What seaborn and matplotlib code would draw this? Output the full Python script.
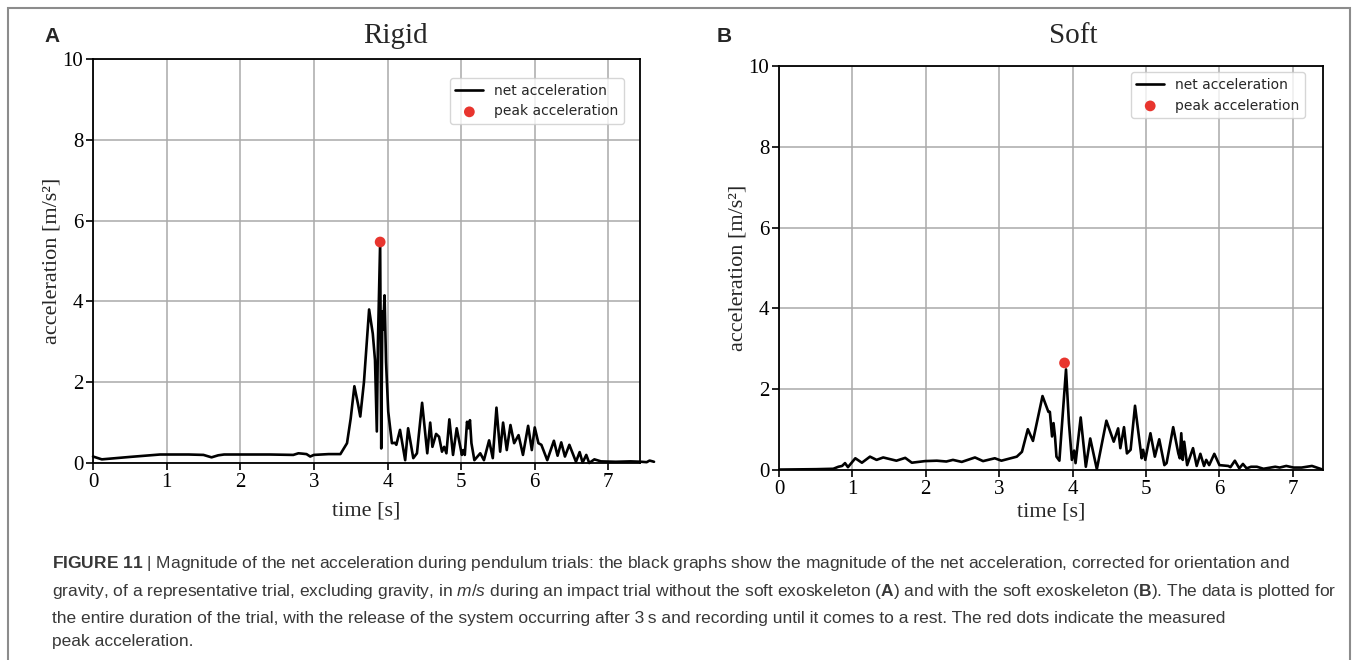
import matplotlib
matplotlib.use("Agg")
import matplotlib.pyplot as plt
import seaborn as sns
import pandas as pd
from matplotlib.patches import Rectangle

# --- data ---------------------------------------------------------------
rigid_t = [0.0, 0.12, 0.5, 0.91, 1.3, 1.5, 1.61, 1.7, 1.78, 2.0,
           2.4, 2.72, 2.79, 2.85, 2.9, 2.95, 3.0, 3.2, 3.36, 3.45,
           3.5, 3.55, 3.6, 3.63, 3.68, 3.75, 3.8, 3.83, 3.855, 3.87,
           3.90, 3.915, 3.93, 3.94, 3.96, 3.98, 4.01, 4.06, 4.1, 4.12,
           4.17, 4.24, 4.28, 4.35, 4.40, 4.47, 4.54, 4.58, 4.61, 4.66,
           4.70, 4.74, 4.77, 4.80, 4.84, 4.89, 4.94, 5.01, 5.03, 5.05,
           5.08, 5.10, 5.12, 5.14, 5.18, 5.26, 5.31, 5.38, 5.43, 5.48,
           5.53, 5.57, 5.62, 5.67, 5.72, 5.78, 5.84, 5.91, 5.96, 6.0,
           6.05, 6.09, 6.17, 6.26, 6.31, 6.36, 6.41, 6.47, 6.56, 6.61,
           6.65, 6.70, 6.74, 6.81, 6.9, 7.1, 7.3, 7.45, 7.52, 7.56,
           7.62]
rigid_acc = [0.16, 0.09, 0.15, 0.21, 0.21, 0.20, 0.14, 0.19, 0.21, 0.21,
             0.21, 0.20, 0.24, 0.23, 0.22, 0.16, 0.20, 0.22, 0.22, 0.49,
             1.1, 1.9, 1.45, 1.15, 2.0, 3.80, 3.2, 2.55, 0.78, 3.0,
             5.45, 0.36, 3.75, 3.3, 4.15, 2.5, 1.27, 0.49, 0.5, 0.45,
             0.82, 0.07, 0.86, 0.12, 0.24, 1.49, 0.24, 1.0, 0.4, 0.72,
             0.65, 0.28, 0.4, 0.24, 1.08, 0.2, 0.86, 0.2, 0.32, 0.2,
             1.02, 0.86, 1.06, 0.49, 0.07, 0.24, 0.07, 0.56, 0.12, 1.37,
             0.28, 1.0, 0.32, 0.94, 0.49, 0.69, 0.2, 0.92, 0.32, 0.88,
             0.49, 0.45, 0.07, 0.55, 0.18, 0.51, 0.16, 0.45, 0.03, 0.27,
             0.01, 0.2, 0.0, 0.09, 0.04, 0.03, 0.04, 0.03, 0.02, 0.06,
             0.03]
rigid_peak_t = [3.90]
rigid_peak_acc = [5.47]

soft_t = [0.0, 0.51, 0.74, 0.81, 0.86, 0.90, 0.94, 1.04, 1.13, 1.24,
          1.33, 1.42, 1.60, 1.72, 1.81, 1.99, 2.15, 2.28, 2.37, 2.49,
          2.67, 2.78, 2.94, 3.03, 3.24, 3.31, 3.39, 3.46, 3.59, 3.67,
          3.69, 3.72, 3.74, 3.76, 3.78, 3.82, 3.84, 3.91, 3.95, 3.99,
          4.02, 4.04, 4.11, 4.18, 4.24, 4.33, 4.46, 4.56, 4.62, 4.65,
          4.70, 4.74, 4.79, 4.85, 4.94, 4.96, 4.99, 5.06, 5.12, 5.18,
          5.25, 5.28, 5.37, 5.44, 5.46, 5.48, 5.50, 5.52, 5.56, 5.64,
          5.69, 5.74, 5.79, 5.82, 5.86, 5.93, 6.0, 6.12, 6.15, 6.21,
          6.27, 6.32, 6.37, 6.43, 6.51, 6.60, 6.76, 6.82, 6.91, 7.01,
          7.12, 7.26, 7.39]
soft_acc = [0.01, 0.02, 0.03, 0.08, 0.10, 0.17, 0.07, 0.29, 0.18, 0.33,
            0.25, 0.31, 0.23, 0.30, 0.18, 0.22, 0.23, 0.21, 0.25, 0.20,
            0.31, 0.22, 0.29, 0.23, 0.33, 0.45, 1.01, 0.72, 1.83, 1.44,
            1.44, 0.83, 1.16, 0.83, 0.33, 0.23, 0.74, 2.49, 1.16, 0.25,
            0.48, 0.17, 1.30, 0.08, 0.78, 0.02, 1.22, 0.70, 1.03, 0.54,
            1.06, 0.41, 0.50, 1.59, 0.29, 0.50, 0.25, 0.91, 0.33, 0.76,
            0.12, 0.17, 1.06, 0.41, 0.29, 0.91, 0.25, 0.70, 0.12, 0.54,
            0.10, 0.40, 0.10, 0.25, 0.12, 0.40, 0.12, 0.10, 0.07, 0.23,
            0.04, 0.15, 0.04, 0.08, 0.08, 0.03, 0.08, 0.06, 0.10, 0.06,
            0.06, 0.10, 0.02]
soft_peak_t = [3.89]
soft_peak_acc = [2.65]

y_ticks = [0, 2, 4, 6, 8, 10]
x_ticks = [0, 1, 2, 3, 4, 5, 6, 7]

caption_lines = [
    r"$\mathbf{FIGURE\ 11}$ | Magnitude of the net acceleration during pendulum trials: the black graphs show the magnitude of the net acceleration, corrected for orientation and",
    r"gravity, of a representative trial, excluding gravity, in $\mathit{m/s}$ during an impact trial without the soft exoskeleton ($\mathbf{A}$) and with the soft exoskeleton ($\mathbf{B}$). The data is plotted for",
    "the entire duration of the trial, with the release of the system occurring after 3\u2009s and recording until it comes to a rest. The red dots indicate the measured",
    "peak acceleration.",
]

sns.set_theme(style="whitegrid", rc={
    "axes.edgecolor": "black",
    "axes.linewidth": 1.3,
    "grid.color": "#aaaaaa",
    "grid.linewidth": 1.1,
    "xtick.bottom": True,
    "ytick.left": True,
    "xtick.major.size": 5,
    "ytick.major.size": 5,
    "xtick.color": "black",
    "ytick.color": "black",
})
plt.rcParams["font.family"] = ["Liberation Serif", "DejaVu Serif"]
plt.rcParams["mathtext.fontset"] = "custom"
plt.rcParams["mathtext.rm"] = "Liberation Sans"
plt.rcParams["mathtext.bf"] = "Liberation Sans:bold"
plt.rcParams["mathtext.it"] = "Liberation Sans:italic"

RED = "#e8352e"

fig = plt.figure(figsize=(13.58, 6.6), dpi=100)
fig.patch.set_facecolor("white")

panels = [
    # (t, acc, peak_t, peak_acc, axes rect, xmax, title, title_x, letter, letter_x, legend anchor, clip, xlabelpad)
    (rigid_t, rigid_acc, rigid_peak_t, rigid_peak_acc, [0.0685, 0.2985, 0.4028, 0.6121], 7.43,
     "Rigid", 0.291, "A", 0.038, (0.971, 0.953), False, 7),
    (soft_t, soft_acc, soft_peak_t, soft_peak_acc, [0.5736, 0.2879, 0.4006, 0.6121], 7.41,
     "Soft", 0.790, "B", 0.533, (0.967, 0.985), True, 3),
]

for t, acc, pk_t, pk_acc, rect, xmax, title, tx, letter, lx, anchor, clip, xpad in panels:
    ax = fig.add_axes(rect)
    df = pd.DataFrame({"time": t, "acc": acc})
    sns.lineplot(data=df, x="time", y="acc", color="black", linewidth=1.9,
                 estimator=None, sort=False, label="net acceleration", ax=ax)
    ax.lines[0].set_clip_on(clip)
    sns.scatterplot(x=pk_t, y=pk_acc, color=RED, s=60, edgecolor="none",
                    label="peak acceleration", zorder=5, ax=ax)
    ax.set_xlim(0, xmax)
    ax.set_ylim(0, 10)
    ax.set_xticks(x_ticks)
    ax.set_yticks(y_ticks)
    ax.tick_params(labelsize=15, width=1.2, pad=2)
    ax.set_xlabel("time [s]", fontsize=16, labelpad=xpad)
    ax.set_ylabel("acceleration [m/s\u00b2]", fontsize=16, labelpad=1)
    for s in ax.spines.values():
        s.set_color("black")
    leg = ax.legend(loc="upper right", bbox_to_anchor=anchor, borderaxespad=0,
                    prop={"family": "DejaVu Sans", "size": 10}, frameon=True,
                    fancybox=True, framealpha=0.8, edgecolor="#cccccc",
                    handlelength=2.0, borderpad=0.4, labelspacing=0.5)
    fig.text(tx, 0.945, title, fontsize=21, ha="center", va="center")
    fig.text(lx, 0.945, letter, fontsize=15, fontweight="bold", ha="center",
             va="center", family="Liberation Sans")

# outer frame
fig.patches.append(Rectangle((0.006, -0.02), 0.988, 1.008, transform=fig.transFigure,
                             fill=False, edgecolor="#8c8c8c", linewidth=1.5))

cap_y = [0.146, 0.104, 0.063, 0.028]
for line, y in zip(caption_lines, cap_y):
    fig.text(0.038, y, line, fontsize=12.5, color="#383838", ha="left",
             va="center", family="Liberation Sans")

fig.savefig("out.png", dpi=100)
